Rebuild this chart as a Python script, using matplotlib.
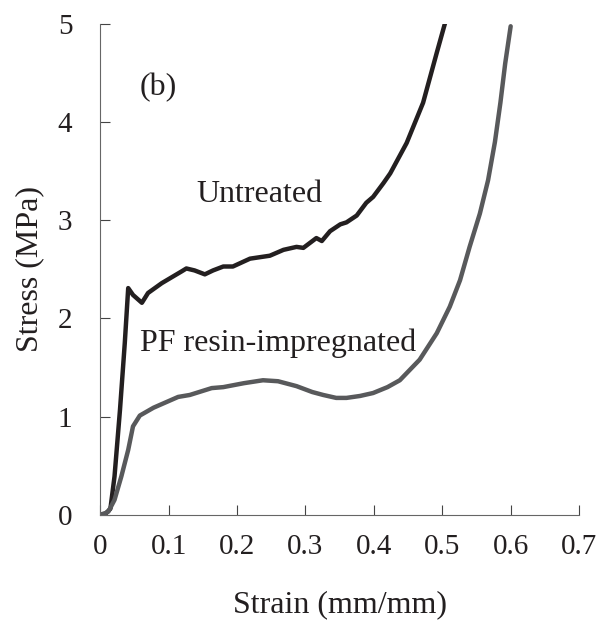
import matplotlib.pyplot as plt

# Untreated (black curve)
untreated_strain = [0, 0.008, 0.015, 0.021, 0.029, 0.036, 0.041, 0.048, 0.061, 0.070,
                    0.090, 0.119, 0.126, 0.138, 0.153, 0.165, 0.180, 0.194, 0.219, 0.248,
                    0.268, 0.287, 0.297, 0.316, 0.324, 0.336, 0.351, 0.360, 0.375, 0.389,
                    0.399, 0.414, 0.424, 0.448, 0.472, 0.492, 0.504]
untreated_stress = [0, 0.01, 0.06, 0.39, 1.07, 1.75, 2.31, 2.24, 2.16, 2.26,
                    2.36, 2.48, 2.51, 2.49, 2.45, 2.49, 2.53, 2.53, 2.61, 2.64,
                    2.70, 2.73, 2.72, 2.82, 2.79, 2.89, 2.96, 2.98, 3.05, 3.18,
                    3.24, 3.38, 3.48, 3.79, 4.20, 4.71, 5.01]

# PF resin-impregnated (grey curve)
pf_strain = [0, 0.006, 0.012, 0.021, 0.031, 0.041, 0.048, 0.058, 0.078, 0.114,
             0.131, 0.163, 0.180, 0.210, 0.238, 0.260, 0.287, 0.310, 0.326, 0.345,
             0.360, 0.380, 0.399, 0.420, 0.438, 0.467, 0.492, 0.511, 0.526, 0.540,
             0.555, 0.567, 0.577, 0.585, 0.592, 0.600]
pf_stress = [0, 0.01, 0.03, 0.15, 0.39, 0.66, 0.90, 1.01, 1.09, 1.20,
             1.22, 1.29, 1.30, 1.34, 1.37, 1.36, 1.31, 1.25, 1.22, 1.19,
             1.19, 1.21, 1.24, 1.30, 1.37, 1.58, 1.85, 2.12, 2.39, 2.73,
             3.07, 3.41, 3.80, 4.20, 4.60, 4.98]

plt.rcParams['font.family'] = ['Liberation Serif', 'DejaVu Serif']

fig = plt.figure(figsize=(6.07, 6.23), dpi=100)
ax = fig.add_axes([0.165, 0.174, 0.789, 0.787])

ax.plot(untreated_strain, untreated_stress, color='#231f20', lw=3.2,
        solid_joinstyle='round', solid_capstyle='round')
ax.plot(pf_strain, pf_stress, color='#58595b', lw=3.2,
        solid_joinstyle='round', solid_capstyle='round')

ax.set_xlim(0, 0.7)
ax.set_ylim(0, 5)
ax.set_xticks([0, 0.1, 0.2, 0.3, 0.4, 0.5, 0.6, 0.7])
ax.set_xticklabels(['0', '0.1', '0.2', '0.3', '0.4', '0.5', '0.6', '0.7'])
ax.set_yticks([0, 1, 2, 3, 4, 5])

for side in ['top', 'right']:
    ax.spines[side].set_visible(False)
for side in ['left', 'bottom']:
    ax.spines[side].set_color('#666666')
    ax.spines[side].set_linewidth(0.8)

ax.tick_params(direction='in', length=7, width=0.8, color='#444444',
               labelsize=21, pad=14, labelcolor='#231f20')
ax.tick_params(axis='y', pad=20)

ax.set_xlabel('Strain (mm/mm)', fontsize=23, color='#231f20', labelpad=22)
ax.set_ylabel('Stress (MPa)', fontsize=23, color='#231f20', labelpad=10)

ax.text(0.058, 4.35, '(b)', fontsize=23, color='#231f20', va='center')
ax.text(0.141, 3.26, 'Untreated', fontsize=23, color='#231f20', va='center')
ax.text(0.058, 1.75, 'PF resin-impregnated', fontsize=23, color='#231f20', va='center')

fig.savefig('out.png', dpi=100)
